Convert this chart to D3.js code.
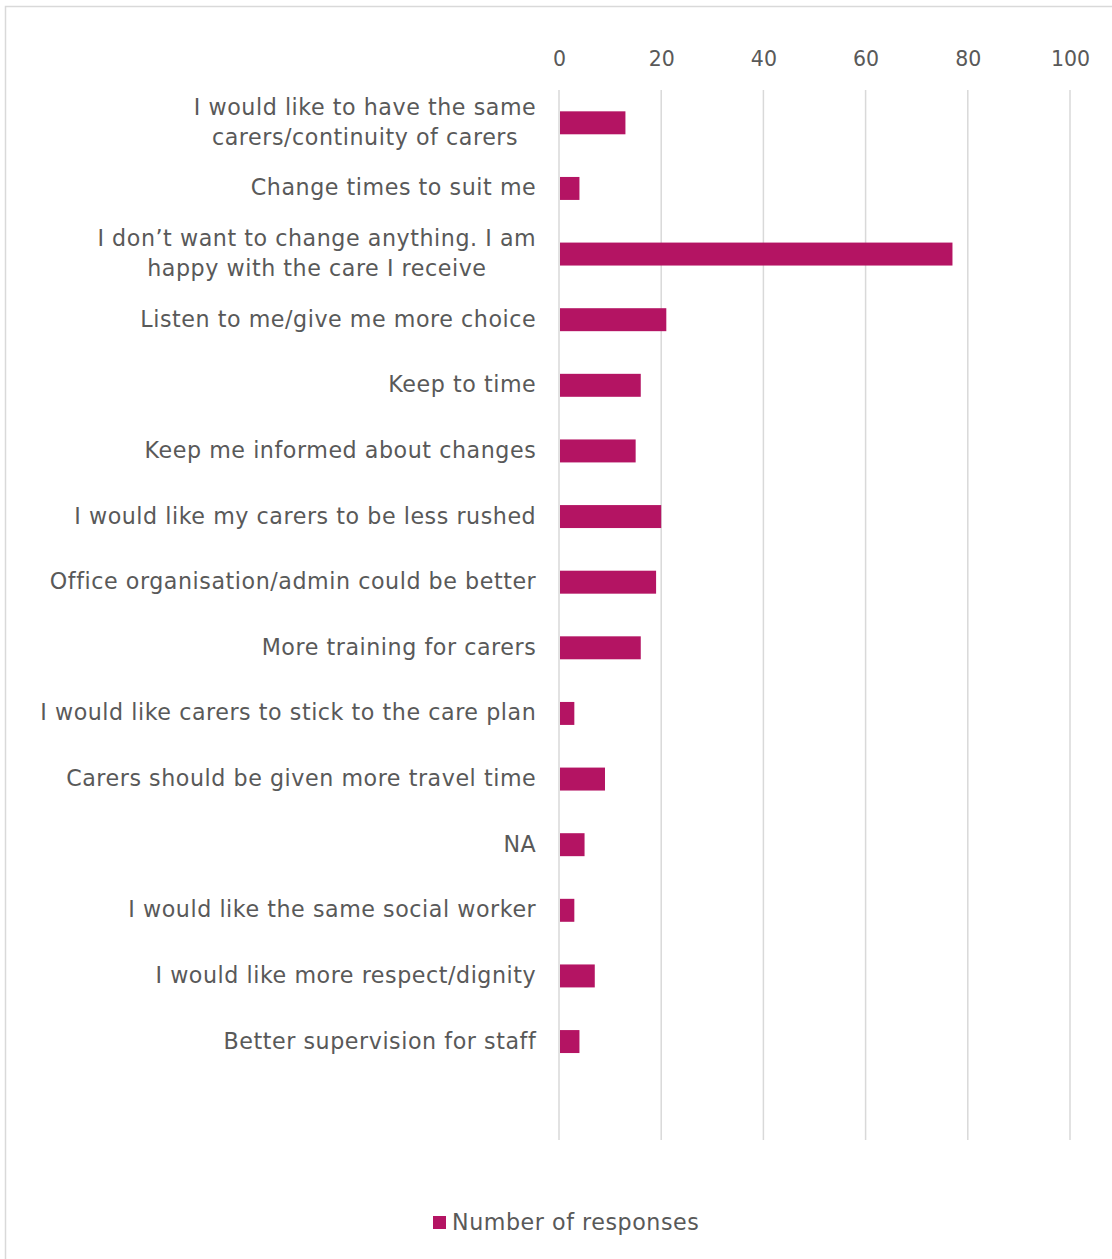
<!DOCTYPE html>
<html>
<head>
<meta charset="utf-8">
<script src="https://cdn.jsdelivr.net/npm/d3@7"></script>
<style>
  html, body { margin: 0; padding: 0; background: #ffffff; }
  svg { display: block; }
  text { font-family: "DejaVu Sans", sans-serif; fill: #595959; }
</style>
</head>
<body>
<div id="chart"></div>
<script>
// Survey answers: "What could be improved about your care?"
const categories = [
  "I would like to have the same\ncarers/continuity of carers",
  "Change times to suit me",
  "I don\u2019t want to change anything. I am\nhappy with the care I receive",
  "Listen to me/give me more choice",
  "Keep to time",
  "Keep me informed about changes",
  "I would like my carers to be less rushed",
  "Office organisation/admin could be better",
  "More training for carers",
  "I would like carers to stick to the care plan",
  "Carers should be given more travel time",
  "NA",
  "I would like the same social worker",
  "I would like more respect/dignity",
  "Better supervision for staff",
  ""
];
const responses = [13, 4, 77, 21, 16, 15, 20, 19, 16, 3, 9, 5, 3, 7, 4, 0];
const xTicks = [0, 20, 40, 60, 80, 100];
const seriesName = "Number of responses";

const W = 1112, H = 1259;
const plot = { left: 559, right: 1070, top: 90, bottom: 1140 };
const barColor = "#b41463";
const gridColor = "#d9d9d9";
const tickFont = 20.5;
const labelFont = 22.2;
const labelSpacing = 0.55;

const svg = d3.select("#chart").append("svg")
  .attr("width", W).attr("height", H);

// chart frame (runs off the right and bottom edges)
svg.append("rect")
  .attr("x", 5.5).attr("y", 6.5)
  .attr("width", W + 10).attr("height", H + 10)
  .attr("fill", "none").attr("stroke", gridColor).attr("stroke-width", 1.5);

const x = d3.scaleLinear().domain([0, 100]).range([plot.left, plot.right]);
const y = d3.scaleBand().domain(d3.range(categories.length))
  .range([plot.top, plot.bottom]).paddingInner(0.65).paddingOuter(0.325);

// vertical gridlines
svg.append("g").selectAll("line").data(xTicks).join("line")
  .attr("x1", d => x(d)).attr("x2", d => x(d))
  .attr("y1", plot.top).attr("y2", plot.bottom)
  .attr("stroke", gridColor).attr("stroke-width", 1.5);

// value axis along the top
const xAxis = svg.append("g")
  .attr("transform", `translate(0,${plot.top - 24})`)
  .call(d3.axisTop(x).tickValues(xTicks).tickSize(0).tickPadding(0));
xAxis.select(".domain").remove();
xAxis.selectAll("text")
  .style("font-size", tickFont + "px")
  .style("font-family", '"DejaVu Sans", sans-serif')
  .attr("fill", "#595959")
  .attr("dy", "0");

// bars
svg.append("g").selectAll("rect")
  .data(responses.map((v, i) => ({ v, i })).filter(d => d.v > 0))
  .join("rect")
  .attr("x", x(0) + 1)
  .attr("y", d => y(d.i))
  .attr("width", d => x(d.v) - x(0) - 1)
  .attr("height", y.bandwidth())
  .attr("fill", barColor);

// category labels: block right-aligned, wrapped lines centred on each other
const labelRight = 536;
const lineH = 30;
const labels = svg.append("g");
categories.forEach((c, i) => {
  if (!c) return;
  const lines = c.split("\n");
  const cy = y(i) + y.bandwidth() / 2;
  const t = labels.append("text")
    .style("font-size", labelFont + "px")
    .style("letter-spacing", labelSpacing + "px")
    .attr("dominant-baseline", "middle");
  lines.forEach((ln, k) => {
    t.append("tspan").text(ln)
      .attr("y", cy + (k - (lines.length - 1) / 2) * lineH);
  });
  // measure to place the block against the axis
  const widths = t.selectAll("tspan").nodes().map(s => s.getComputedTextLength());
  const maxW = d3.max(widths) - labelSpacing;
  t.attr("text-anchor", "middle");
  t.selectAll("tspan").attr("x", labelRight - maxW / 2);
});

// legend
const legend = svg.append("g").attr("transform", "translate(433,1216)");
legend.append("rect").attr("width", 13).attr("height", 13).attr("fill", barColor);
legend.append("text").attr("x", 19).attr("y", 7)
  .attr("dominant-baseline", "middle")
  .style("font-size", labelFont + "px")
  .style("letter-spacing", labelSpacing + "px")
  .text(seriesName);
</script>
</body>
</html>
